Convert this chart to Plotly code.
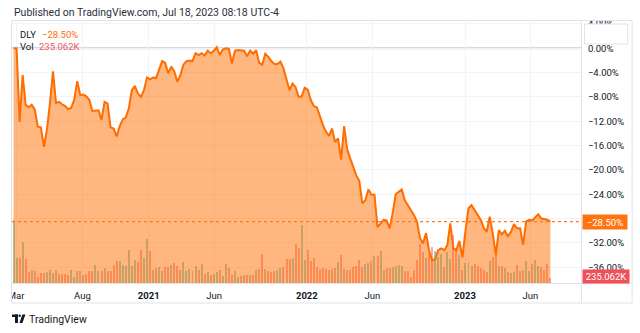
import plotly.graph_objects as go
import pandas as pd

# ---------------- data ----------------
start_date = "2020-02-24"          # first weekly bar
n_weeks = 178

pct = [
    0.0, 0.0, -12.1, -4.4, -9.3, -9.7, -9.3, -10.1, -12.9, -13.0,
    -16.2, -13.4, -9.0, -3.8, -9.0, -8.8, -9.2, -9.5, -10.0, -9.8,
    -8.5, -5.4, -7.7, -7.6, -7.9, -8.5, -10.3, -10.3, -10.2, -11.8,
    -8.8, -9.1, -13.0, -13.2, -14.5, -12.8, -11.7, -11.4, -9.9, -6.9,
    -6.2, -7.4, -8.0, -6.9, -4.8, -5.1, -4.8, -4.9, -3.5, -2.1,
    -2.4, -4.1, -3.0, -3.8, -5.5, -4.4, -2.7, -2.1, -2.0, -2.1,
    -0.8, -1.1, -0.8, -1.2, -0.4, -0.8, -0.4, 0.2, -1.1, -0.2,
    0.0, -0.1, -2.5, -0.4, -0.3, -0.4, -0.4, -1.3, -0.4, -0.9,
    -0.3, -2.4, -2.7, -0.9, -1.4, -2.1, -2.6, -2.6, -2.2, -3.3,
    -5.2, -6.9, -5.8, -6.4, -8.0, -7.9, -6.5, -6.8, -8.5, -9.5,
    -9.7, -11.2, -12.6, -13.7, -14.4, -13.2, -15.4, -14.8, -18.3, -12.8,
    -16.6, -18.1, -19.7, -20.9, -21.8, -25.5, -25.0, -23.2, -24.1, -24.1,
    -29.4, -28.8, -28.2, -28.3, -29.6, -27.1, -24.0, -23.6, -23.2, -25.0,
    -25.8, -26.4, -27.4, -28.5, -31.2, -32.1, -30.4, -33.2, -34.9, -34.7,
    -33.2, -32.9, -33.2, -32.4, -28.8, -32.9, -33.2, -31.7, -34.4, -30.0,
    -26.3, -25.8, -26.6, -27.2, -28.2, -29.5, -30.2, -27.7, -30.4, -34.0,
    -29.9, -30.6, -30.0, -30.9, -30.2, -28.9, -29.6, -29.6, -32.3, -28.5,
    -28.2, -28.3, -27.8, -27.3, -28.0, -28.1, -28.2, -28.5,
]

vol_k = [
    2960, 1180, 1180, 1930, 1130, 520, 610, 560, 280, 470,
    470, 520, 610, 470, 610, 420, 420, 420, 380, 610,
    280, 560, 560, 380, 420, 560, 560, 850, 560, 560,
    710, 560, 560, 850, 1030,
    1030, 850, 800, 1550, 800, 1080, 990, 1550, 1180, 2070,
    1500, 610, 710, 750, 560, 750, 750, 850, 940, 800,
    610, 990, 560, 660, 560, 800, 610, 890, 420, 520,
    380, 420, 520, 610, 330, 890, 710, 380,
    560, 280, 330, 380, 380, 380, 380, 610, 660, 1360,
    660, 560, 520, 560, 610, 710, 750, 1130, 1130, 1180,
    1830, 1650, 2730, 1080, 1550, 1030, 1180, 750, 660, 710,
    660, 610, 660, 710, 990, 1320, 660,
    610, 610, 750, 800, 1080, 750, 890, 940, 1030, 1270,
    1270, 1500, 610, 710, 710, 750, 800, 850, 800, 560,
    560, 280, 610, 1080, 1830, 1460, 1180, 1360, 1690, 1500,
    1220, 1360, 750, 1460, 1130, 2260, 1600, 1320, 610,
    940, 990, 800, 890, 800, 710, 610, 520, 1030, 1220,
    1690, 800, 800, 710, 520, 470, 520, 850, 560, 610,
    1030, 560, 890, 1080, 800, 750, 610, 890, 235.062,
]

tick_dates = ["2020-03-01", "2020-08-01", "2021-01-01", "2021-06-01",
              "2022-01-01", "2022-06-01", "2023-01-01", "2023-06-01"]
tick_text = ["Mar", "Aug", "<b>2021</b>", "Jun", "<b>2022</b>", "Jun",
             "<b>2023</b>", "Jun"]

pct_ticks = [4, 0, -4, -8, -12, -16, -20, -24, -28, -32, -36]
pct_tick_text = ["4.00%", "0.00%", "\u22124.00%", "\u22128.00%", "\u221212.00%",
                 "\u221216.00%", "\u221220.00%", "\u221224.00%", "",
                 "\u221232.00%", "\u221236.00%"]

last_pct_label = "\u221228.50%"
last_vol_label = "235.062K"
symbol = "DLY"

# ---------------- styling ----------------
W, H = 640, 333
ML, MR, MT, MB = 8, 59, 21, 50
PW, PH = W - ML - MR, H - MT - MB
Y_MIN, Y_MAX = -38.6, 4.49
VOL_MAX = 12314
X_RANGE = ["2020-02-20 10:00", "2023-09-25 16:00"]

LINE_C = "#FF6D00"
FILL_C = "rgba(255,109,0,0.50)"
UP_C = "rgba(38,166,154,0.50)"
DN_C = "rgba(239,83,80,0.50)"
TXT = "#131722"
GRID = "#F0F3FA"
BORDER = "#E0E3EB"
FONT = "Roboto"

dates = pd.date_range(start_date, periods=n_weeks, freq="7D")
colors = [UP_C] + [UP_C if pct[i] >= pct[i - 1] else DN_C for i in range(1, n_weeks)]


def px(xp):
    return (xp - ML) / PW


def py(yp):
    return (H - MB - yp) / PH


fig = go.Figure()

# volume (bottom layer, main y axis)
fig.add_trace(go.Bar(x=dates, y=vol_k, yaxis="y", marker=dict(color=colors, line=dict(width=0)),
                     width=4.6 * 24 * 3600 * 1000, showlegend=False))
# area (overlaying percent axis, drawn above the bars)
fig.add_trace(go.Scatter(x=dates, y=[Y_MIN] * n_weeks, mode="lines", yaxis="y2",
                         line=dict(width=0, color="rgba(0,0,0,0)"),
                         hoverinfo="skip", showlegend=False))
fig.add_trace(go.Scatter(x=dates, y=pct, mode="lines", fill="tonexty", yaxis="y2",
                         fillcolor=FILL_C, line=dict(color=LINE_C, width=2),
                         showlegend=False))
# last-value dotted price line
fig.add_trace(go.Scatter(x=X_RANGE, y=[pct[-1], pct[-1]], mode="lines", yaxis="y2",
                         line=dict(color="#FF7A1A", width=1.2, dash="dot"),
                         hoverinfo="skip", showlegend=False))

shapes = [
    dict(type="line", xref="paper", yref="y2", x0=0, x1=1, y0=0, y1=0,
         line=dict(color="#C9CCD5", width=2), layer="below"),
    dict(type="rect", xref="paper", yref="paper", x0=px(0), x1=px(7), y0=py(333), y1=py(0),
         fillcolor="white", line=dict(width=0), layer="above"),
    dict(type="rect", xref="paper", yref="paper", x0=px(0), x1=px(640), y0=py(20.5), y1=py(0),
         fillcolor="white", line=dict(width=0), layer="above"),
    dict(type="rect", xref="paper", yref="paper", x0=px(584.5), x1=px(628), y0=py(44), y1=py(24),
         fillcolor="white", line=dict(color=BORDER, width=1), layer="above"),
    dict(type="rect", xref="paper", yref="paper", x0=px(7.5), x1=px(632.5), y0=py(303), y1=py(20.5),
         line=dict(color=BORDER, width=1), layer="above"),
    dict(type="line", xref="paper", yref="paper", x0=px(581.5), x1=px(581.5), y0=py(303), y1=py(20.5),
         line=dict(color=BORDER, width=1), layer="above"),
    dict(type="line", xref="paper", yref="paper", x0=px(7.5), x1=px(632.5), y0=py(283.5), y1=py(283.5),
         line=dict(color=BORDER, width=1), layer="above"),
    dict(type="rect", xref="paper", yref="paper", x0=px(8), x1=px(14), y0=py(317), y1=py(314.5),
         fillcolor=TXT, line=dict(width=0), layer="above"),
    dict(type="rect", xref="paper", yref="paper", x0=px(11), x1=px(14), y0=py(323), y1=py(314.5),
         fillcolor=TXT, line=dict(width=0), layer="above"),
    dict(type="circle", xref="paper", yref="paper", x0=px(14.6), x1=px(17), y0=py(317), y1=py(314.6),
         fillcolor=TXT, line=dict(width=0), layer="above"),
    dict(type="path", xref="paper", yref="paper",
         path=f"M {px(15.5)},{py(323)} L {px(18.5)},{py(314.5)} L {px(21.5)},{py(314.5)} L {px(18.5)},{py(323)} Z",
         fillcolor=TXT, line=dict(width=0), layer="above"),
]

ann = [
    dict(text="Published on TradingView.com, Jul 18, 2023 08:18 UTC-4", x=px(8), y=py(12),
         font=dict(size=10.5, color="#2A2E39")),
    dict(text=symbol, x=px(14), y=py(34), font=dict(size=9.5, color=TXT)),
    dict(text=last_pct_label, x=px(36), y=py(34), font=dict(size=9.5, color=LINE_C)),
    dict(text="Vol", x=px(14), y=py(46.5), font=dict(size=9.5, color=TXT)),
    dict(text=last_vol_label, x=px(33), y=py(46.5), font=dict(size=9.5, color="#F05A5F")),
    dict(text=last_pct_label, x=px(582.5), y=py(221.7), width=44, height=14, bgcolor="#FF7410",
         borderpad=0, align="center", font=dict(size=9.5, color="white")),
    dict(text=last_vol_label, x=px(582.5), y=py(276.5), width=46, height=13, bgcolor="#EF5059",
         borderpad=0, align="center", font=dict(size=9.5, color="white")),
    dict(text="TradingView", x=px(23), y=py(319), font=dict(size=10.5, color=TXT)),
]
for a in ann:
    a.update(xref="paper", yref="paper", xanchor="left", yanchor="middle", showarrow=False)

fig.update_layout(
    width=W, height=H, margin=dict(l=ML, r=MR, t=MT, b=MB, pad=0),
    paper_bgcolor="white", plot_bgcolor="white",
    font=dict(family=FONT, size=9.5, color=TXT),
    showlegend=False, bargap=0,
    xaxis=dict(type="date", range=X_RANGE, tickvals=tick_dates, ticktext=tick_text,
               showgrid=True, gridcolor=GRID, gridwidth=1, zeroline=False, showline=False,
               ticks="outside", ticklen=4, tickcolor="rgba(0,0,0,0)",
               tickfont=dict(size=9.5, color=TXT)),
    yaxis=dict(range=[0, VOL_MAX], side="left", visible=False, showgrid=False, zeroline=False),
    yaxis2=dict(range=[Y_MIN, Y_MAX], overlaying="y", side="right",
                tickvals=pct_ticks, ticktext=pct_tick_text,
                showgrid=True, gridcolor=GRID, gridwidth=1, zeroline=False, showline=False,
                ticks="outside", ticklen=4, tickcolor="rgba(0,0,0,0)",
                tickfont=dict(size=9.5, color=TXT)),
    shapes=shapes, annotations=ann,
)

fig.write_html("out.html")
